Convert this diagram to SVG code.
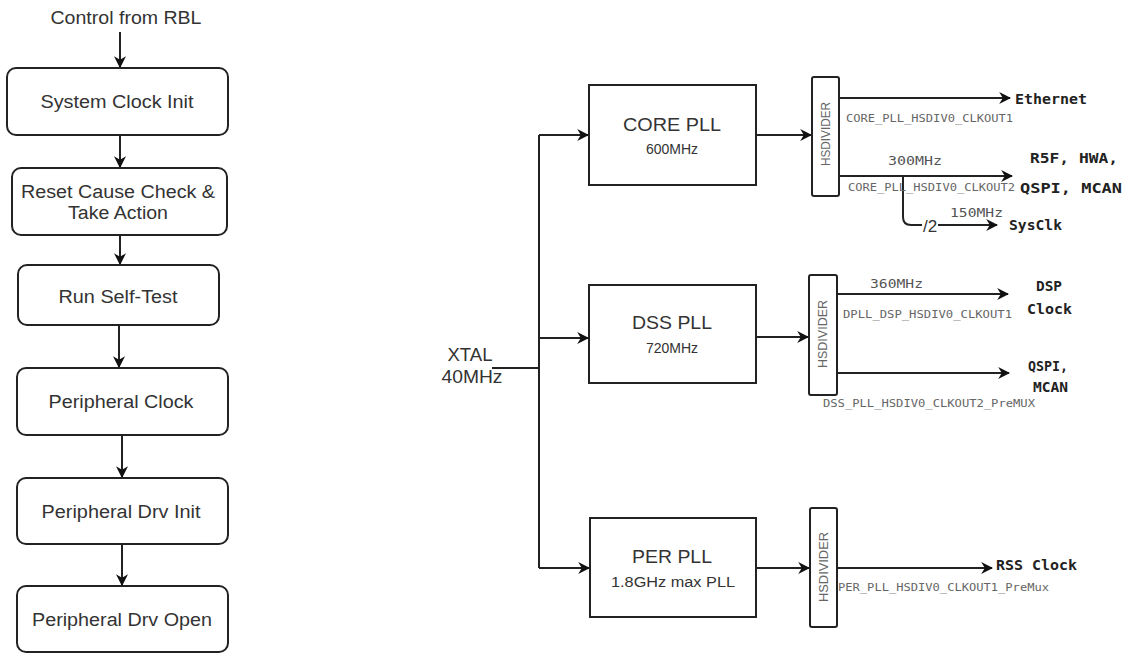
<svg xmlns="http://www.w3.org/2000/svg" width="1123" height="654" viewBox="0 0 1123 654">
<defs>
<style>
.box{fill:#fff;stroke:#222;stroke-width:2}
.ln{fill:none;stroke:#222;stroke-width:2}
.t{font-family:"Liberation Sans",Arial,sans-serif;fill:#333;text-anchor:middle;dominant-baseline:central}
.big{font-size:18px}
.med{font-size:14px}
.hd{font-family:"Liberation Sans",Arial,sans-serif;font-size:12.5px;fill:#666;text-anchor:middle;dominant-baseline:central}
.m{font-family:"DejaVu Sans Mono","Liberation Mono",monospace;font-size:10px;fill:#666;dominant-baseline:central}
.mf{font-family:"DejaVu Sans Mono","Liberation Mono",monospace;font-size:13px;fill:#555;dominant-baseline:central}
.b{font-family:"DejaVu Sans Mono","Liberation Mono",monospace;font-size:14px;font-weight:bold;fill:#222;dominant-baseline:central}
</style>
<marker id="ah" viewBox="0 0 10 10" refX="9" refY="5" markerWidth="12" markerHeight="12" markerUnits="userSpaceOnUse" orient="auto">
<path d="M0,0 L10,5 L0,10 L3,5 z" fill="#111"/>
</marker>
</defs>
<rect width="1123" height="654" fill="#fff"/>

<g id="connectors">
<line class="ln" x1="120" y1="32" x2="120" y2="67" marker-end="url(#ah)"/>
<line class="ln" x1="120" y1="135" x2="120" y2="167" marker-end="url(#ah)"/>
<line class="ln" x1="120" y1="235" x2="120" y2="264" marker-end="url(#ah)"/>
<line class="ln" x1="119" y1="325" x2="119" y2="367" marker-end="url(#ah)"/>
<line class="ln" x1="122" y1="435" x2="122" y2="477" marker-end="url(#ah)"/>
<line class="ln" x1="122" y1="544" x2="122" y2="585" marker-end="url(#ah)"/>

<line class="ln" x1="492" y1="368" x2="539" y2="368"/>
<path class="ln" d="M539,135 L539,568"/>
<line class="ln" x1="539" y1="135" x2="588" y2="135" marker-end="url(#ah)"/>
<line class="ln" x1="539" y1="338" x2="588" y2="338" marker-end="url(#ah)"/>
<line class="ln" x1="539" y1="568" x2="589" y2="568" marker-end="url(#ah)"/>
<line class="ln" x1="756" y1="135" x2="811" y2="135" marker-end="url(#ah)"/>
<line class="ln" x1="756" y1="337" x2="808" y2="337" marker-end="url(#ah)"/>
<line class="ln" x1="756" y1="568" x2="809" y2="568" marker-end="url(#ah)"/>

<line class="ln" x1="839" y1="98" x2="1010" y2="98" marker-end="url(#ah)"/>
<line class="ln" x1="839" y1="176" x2="1012" y2="176" marker-end="url(#ah)"/>
<path class="ln" d="M903,176 L903,217 Q903,225 911,225 L922,225"/>
<line class="ln" x1="938" y1="225" x2="997" y2="225" marker-end="url(#ah)"/>
<line class="ln" x1="837" y1="294" x2="1008" y2="294" marker-end="url(#ah)"/>
<line class="ln" x1="837" y1="373" x2="1009" y2="373" marker-end="url(#ah)"/>
<line class="ln" x1="838" y1="568" x2="992" y2="568" marker-end="url(#ah)"/>
</g>

<g id="start"><text class="t big" x="126" y="18" textLength="151" lengthAdjust="spacingAndGlyphs">Control from RBL</text></g>
<g id="sysclk"><rect class="box" x="7" y="68" width="221" height="67" rx="9"/><text class="t big" x="117" y="102" textLength="153" lengthAdjust="spacingAndGlyphs">System Clock Init</text></g>
<g id="reset"><rect class="box" x="12" y="168" width="215" height="67" rx="9"/><text class="t big" x="118" y="192" textLength="194" lengthAdjust="spacingAndGlyphs">Reset Cause Check &amp;</text><text class="t big" x="118" y="213" textLength="100" lengthAdjust="spacingAndGlyphs">Take Action</text></g>
<g id="selftest"><rect class="box" x="18" y="265" width="201" height="60" rx="9"/><text class="t big" x="118" y="297" textLength="119" lengthAdjust="spacingAndGlyphs">Run Self-Test</text></g>
<g id="perclock"><rect class="box" x="17" y="368" width="211" height="67" rx="9"/><text class="t big" x="121" y="402" textLength="145" lengthAdjust="spacingAndGlyphs">Peripheral Clock</text></g>
<g id="drvinit"><rect class="box" x="17" y="478" width="211" height="66" rx="9"/><text class="t big" x="121" y="512" textLength="159" lengthAdjust="spacingAndGlyphs">Peripheral Drv Init</text></g>
<g id="drvopen"><rect class="box" x="17" y="586" width="211" height="66" rx="9"/><text class="t big" x="122" y="620" textLength="180" lengthAdjust="spacingAndGlyphs">Peripheral Drv Open</text></g>

<g id="xtal"><text class="t big" x="470" y="355" textLength="45" lengthAdjust="spacingAndGlyphs">XTAL</text><text class="t big" x="472" y="377" textLength="61" lengthAdjust="spacingAndGlyphs">40MHz</text></g>

<g id="corepll"><rect class="box" x="589" y="85" width="167" height="100"/><text class="t big" x="672" y="125" textLength="98" lengthAdjust="spacingAndGlyphs">CORE PLL</text><text class="t med" x="672" y="149">600MHz</text></g>
<g id="dsspll"><rect class="box" x="589" y="285" width="167" height="98"/><text class="t big" x="672" y="323" textLength="80" lengthAdjust="spacingAndGlyphs">DSS PLL</text><text class="t med" x="672" y="348">720MHz</text></g>
<g id="perpll"><rect class="box" x="590" y="518" width="166" height="99"/><text class="t big" x="672" y="557" textLength="80" lengthAdjust="spacingAndGlyphs">PER PLL</text><text class="t med" x="673" y="582" textLength="124" lengthAdjust="spacingAndGlyphs">1.8GHz max PLL</text></g>

<g id="hsdiv1"><rect class="box" x="812" y="77" width="27" height="119" rx="2"/><text class="hd" transform="translate(826,134) rotate(-90)" textLength="64" lengthAdjust="spacingAndGlyphs">HSDIVIDER</text></g>
<g id="hsdiv2"><rect class="box" x="809" y="275" width="28" height="120" rx="2"/><text class="hd" transform="translate(823,334) rotate(-90)" textLength="68" lengthAdjust="spacingAndGlyphs">HSDIVIDER</text></g>
<g id="hsdiv3"><rect class="box" x="810" y="508" width="27" height="119" rx="2"/><text class="hd" transform="translate(824,567) rotate(-90)" textLength="70" lengthAdjust="spacingAndGlyphs">HSDIVIDER</text></g>

<g id="labels">
<text class="m" x="846" y="118" textLength="167" lengthAdjust="spacingAndGlyphs">CORE_PLL_HSDIV0_CLKOUT1</text>
<text class="b" x="1015" y="99" textLength="72" lengthAdjust="spacingAndGlyphs">Ethernet</text>
<text class="mf" x="888" y="160" textLength="54" lengthAdjust="spacingAndGlyphs">300MHz</text>
<text class="m" x="848" y="187" textLength="167" lengthAdjust="spacingAndGlyphs">CORE_PLL_HSDIV0_CLKOUT2</text>
<text class="b" x="1030" y="158" textLength="88" lengthAdjust="spacingAndGlyphs">R5F, HWA,</text>
<text class="b" x="1020" y="188" textLength="102" lengthAdjust="spacingAndGlyphs">QSPI, MCAN</text>
<text class="mf" x="950" y="212" textLength="53" lengthAdjust="spacingAndGlyphs">150MHz</text>
<text class="t" x="930" y="226" style="fill:#333;font-size:17px">/2</text>
<text class="b" x="1009" y="225" textLength="53" lengthAdjust="spacingAndGlyphs">SysClk</text>
<text class="mf" x="870" y="283" textLength="53" lengthAdjust="spacingAndGlyphs">360MHz</text>
<text class="b" x="1036" y="286" textLength="26" lengthAdjust="spacingAndGlyphs">DSP</text>
<text class="b" x="1027" y="309" textLength="45" lengthAdjust="spacingAndGlyphs">Clock</text>
<text class="m" x="843" y="314" textLength="169" lengthAdjust="spacingAndGlyphs">DPLL_DSP_HSDIV0_CLKOUT1</text>
<text class="b" x="1028" y="366" textLength="40" lengthAdjust="spacingAndGlyphs">QSPI,</text>
<text class="b" x="1033" y="387" textLength="35" lengthAdjust="spacingAndGlyphs">MCAN</text>
<text class="m" x="823" y="403" textLength="212" lengthAdjust="spacingAndGlyphs">DSS_PLL_HSDIV0_CLKOUT2_PreMUX</text>
<text class="b" x="996" y="565" textLength="81" lengthAdjust="spacingAndGlyphs">RSS Clock</text>
<text class="m" x="838" y="587" textLength="211" lengthAdjust="spacingAndGlyphs">PER_PLL_HSDIV0_CLKOUT1_PreMux</text>
</g>
</svg>
